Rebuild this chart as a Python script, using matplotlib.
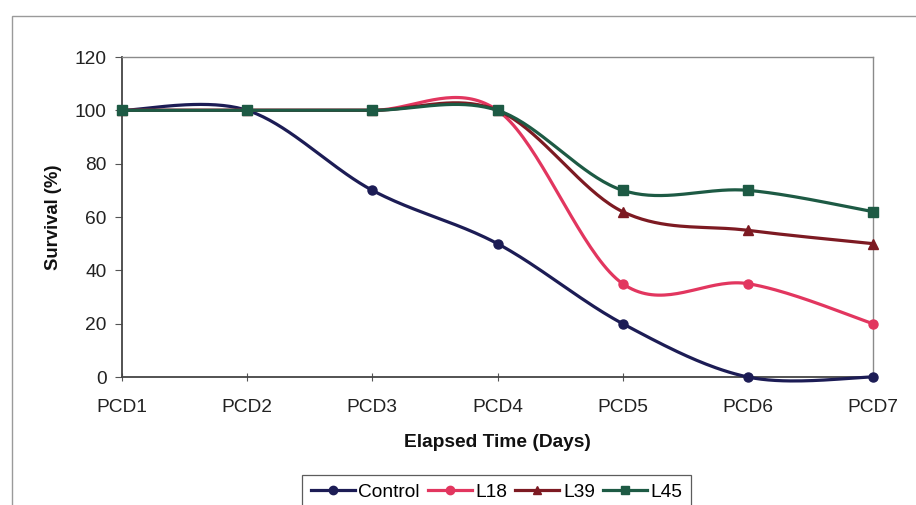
import numpy as np
import matplotlib
matplotlib.use("Agg")
import matplotlib.pyplot as plt
from matplotlib.patches import Rectangle

plt.rcParams['font.family'] = ['Liberation Sans', 'DejaVu Sans']

days = ["PCD1", "PCD2", "PCD3", "PCD4", "PCD5", "PCD6", "PCD7"]
control = [100, 100, 70, 50, 20, 0, 0]
l18 = [100, 100, 100, 100, 35, 35, 20]
l39 = [100, 100, 100, 100, 62, 55, 50]
l45 = [100, 100, 100, 100, 70, 70, 62]

series = [
    ("Control", control, "#1c1c55", "o"),
    ("L18", l18, "#e2365f", "o"),
    ("L39", l39, "#7d1a22", "^"),
    ("L45", l45, "#1d5a44", "s"),
]


def smooth(xs, ys, n=40):
    """Cubic Bezier smoothing through every point (spreadsheet-style)."""
    p = np.column_stack([xs, ys]).astype(float)
    out = [p[0]]
    t = np.linspace(0, 1, n)[1:, None]
    for i in range(len(p) - 1):
        p0 = p[i - 1] if i > 0 else p[i]
        p1, p2 = p[i], p[i + 1]
        p3 = p[i + 2] if i + 2 < len(p) else p[i + 1]
        c1 = p1 + (p2 - p0) / 6.0
        c2 = p2 - (p3 - p1) / 6.0
        seg = ((1 - t) ** 3) * p1 + 3 * ((1 - t) ** 2) * t * c1 \
            + 3 * (1 - t) * t ** 2 * c2 + t ** 3 * p2
        out.extend(seg)
    out = np.array(out)
    return out[:, 0], out[:, 1]


FS = 13.8

fig = plt.figure(figsize=(9.16, 5.05), dpi=100)
fig.patch.set_facecolor("white")

# outer chart frame
fig.add_artist(Rectangle((12 / 916, -0.1), 1.2, 1 - 16 / 505 + 0.1,
                         transform=fig.transFigure, fill=False,
                         edgecolor="#9a9a9a", linewidth=1.0))

ax = fig.add_axes([122 / 916, 1 - 377 / 505, (873 - 122) / 916, (377 - 57) / 505])
x = np.arange(len(days))
handles = []
for name, vals, color, marker in series:
    sx, sy = smooth(x, vals)
    ax.plot(sx, sy, color=color, linewidth=2.3, solid_capstyle="round",
            zorder=3, clip_on=False)
    ax.plot(x, vals, linestyle="none", marker=marker, markersize=6.5,
            color=color, zorder=4, clip_on=False)
    h, = ax.plot([], [], color=color, linewidth=2.3, marker=marker, markersize=6)
    h.set_label(name)
    handles.append(h)

ax.set_xlim(0, len(days) - 1)
ax.set_ylim(0, 120)
ax.set_yticks(range(0, 121, 20))
ax.set_xticks(x)
ax.set_xticklabels(days)
ax.tick_params(axis="x", direction="inout", length=6, pad=13, labelsize=FS,
               color="#555555", labelcolor="#222222")
ax.tick_params(axis="y", direction="out", length=5, pad=6, labelsize=FS,
               color="#555555", labelcolor="#222222")
for side in ("top", "right"):
    ax.spines[side].set_color("#8a8a8a")
    ax.spines[side].set_linewidth(1.0)
for side in ("left", "bottom"):
    ax.spines[side].set_color("#444444")
    ax.spines[side].set_linewidth(1.3)

ax.set_ylabel("Survival (%)", fontsize=FS - 0.5, fontweight="bold", color="#111111", labelpad=9)
ax.set_xlabel("Elapsed Time (Days)", fontsize=FS, fontweight="bold", color="#111111", labelpad=13)

leg = fig.legend(handles=handles, loc="upper center", ncol=4,
                 bbox_to_anchor=(496.5 / 916, 1 - 475 / 505), frameon=True,
                 fancybox=False, edgecolor="#333333", fontsize=FS,
                 handlelength=2.3, handletextpad=0.2, columnspacing=0.4,
                 borderpad=0.45, borderaxespad=0)
leg.get_frame().set_linewidth(0.9)

fig.savefig("out.png", dpi=100, facecolor=fig.get_facecolor())
